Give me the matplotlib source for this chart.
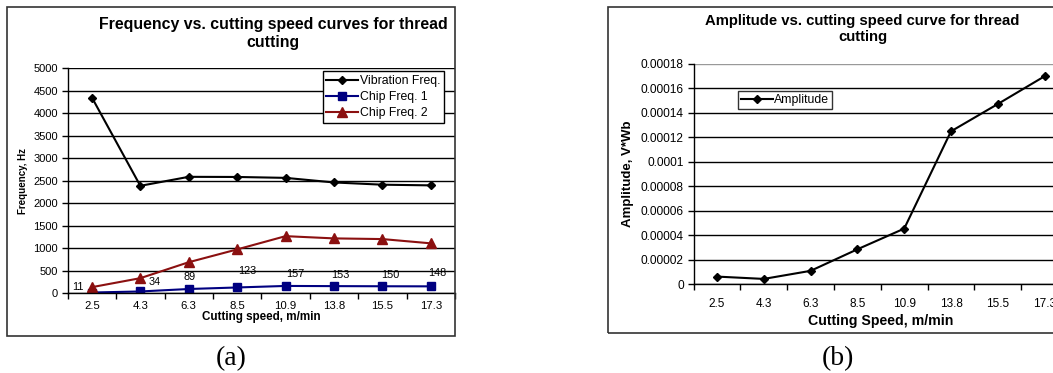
import matplotlib
matplotlib.use("Agg")
import matplotlib.pyplot as plt
from matplotlib.patches import Rectangle
import numpy as np

plt.rcParams['font.family'] = ['Liberation Sans', 'DejaVu Sans']

# ---------------- data ----------------
speeds = ["2.5", "4.3", "6.3", "8.5", "10.9", "13.8", "15.5", "17.3"]
vibration_freq = [4350, 2385, 2585, 2582, 2562, 2460, 2410, 2395]
chip_freq1 = [11, 34, 89, 123, 157, 153, 150, 148]
chip_freq2 = [130, 330, 685, 970, 1265, 1215, 1200, 1105]
amplitude = [6.3e-6, 4.4e-6, 1.1e-5, 2.86e-5, 4.55e-5, 1.25e-4, 1.473e-4, 1.70e-4]

freq_ticks = [0, 500, 1000, 1500, 2000, 2500, 3000, 3500, 4000, 4500, 5000]
amp_ticks = [0, 0.00002, 0.00004, 0.00006, 0.00008, 0.0001, 0.00012, 0.00014, 0.00016, 0.00018]
amp_tick_labels = ["0", "0.00002", "0.00004", "0.00006", "0.00008", "0.0001",
                   "0.00012", "0.00014", "0.00016", "0.00018"]
# label offsets (pixels) for chip freq 1 data labels
label_offsets = [(-14, 6), (14, 9), (1, 12), (10, 16), (10, 12), (6, 11), (8, 11), (6, 13)]

W, H = 1053, 373
fig = plt.figure(figsize=(W / 100, H / 100), dpi=100)


def px_axes(x0, y0, x1, y1):
    return fig.add_axes([x0 / W, (H - y1) / H, (x1 - x0) / W, (y1 - y0) / H])


def px_rect(x0, y0, x1, y1):
    r = Rectangle((x0 / W, (H - y1) / H), (x1 - x0) / W, (y1 - y0) / H,
                  transform=fig.transFigure, fill=False, edgecolor='#333333', lw=1.2)
    fig.patches.append(r)


# outer boxes
px_rect(7, 6.5, 455, 336)
px_rect(608, 7, 1100, 333)

xpos = np.arange(len(speeds))


def style_cat_axis(ax, fs, pad):
    ax.set_xlim(-0.5, len(speeds) - 0.5)
    ax.set_xticks(xpos)
    ax.set_xticklabels(speeds, fontsize=fs)
    ax.set_xticks(np.arange(len(speeds) + 1) - 0.5, minor=True)
    ax.tick_params(axis='x', which='major', length=0, pad=pad)
    ax.tick_params(axis='x', which='minor', length=4, width=1, direction='out', color='black')
    ax.tick_params(axis='y', length=4, width=1, direction='out', color='black', pad=3)
    for s in ['top', 'right']:
        ax.spines[s].set_visible(False)
    for s in ['left', 'bottom']:
        ax.spines[s].set_color('black')
        ax.spines[s].set_linewidth(1.0)
    ax.set_axisbelow(True)


# ---------------- panel (a) ----------------
axa = px_axes(67.7, 68.3, 455, 293)
axa.plot(xpos, vibration_freq, color='black', marker='D', markersize=4.5, lw=1.5,
         label='Vibration Freq.')
axa.plot(xpos, chip_freq1, color='#000080', marker='s', markersize=6, lw=1.5,
         label='Chip Freq. 1')
axa.plot(xpos, chip_freq2, color='#8B1010', marker='^', markersize=6.5, lw=1.5,
         label='Chip Freq. 2')
axa.set_ylim(0, 5000)
axa.set_yticks(freq_ticks)
axa.set_yticklabels([str(v) for v in freq_ticks], fontsize=8)
style_cat_axis(axa, 8.2, 6)
axa.yaxis.grid(True, color='black', lw=1.0)
for i, v in enumerate(chip_freq1):
    dx, dy = label_offsets[i]
    axa.annotate(str(v), (xpos[i], v), xytext=(dx * 0.72, dy * 0.72),
                 textcoords='offset points', ha='center', va='center', fontsize=7.8)
axa.set_xlabel('Cutting speed, m/min', fontsize=8.4, fontweight='bold', labelpad=0)
axa.set_ylabel('Frequency, Hz', fontsize=7, fontweight='bold', labelpad=4)
lga = axa.legend(loc='upper right', bbox_to_anchor=(0.972, 0.987), fontsize=8.8,
                 frameon=True, fancybox=False, edgecolor='black', framealpha=1,
                 handlelength=2.6, borderpad=0.3, labelspacing=0.35, handletextpad=0.15,
                 borderaxespad=0)
lga.get_frame().set_linewidth(1.0)
fig.text(273 / W, 1 - 33.5 / H, 'Frequency vs. cutting speed curves for thread\ncutting',
         ha='center', va='center', fontsize=11.4, fontweight='bold', linespacing=1.22)

# ---------------- panel (b) ----------------
axb = px_axes(693.6, 64, 1068, 284.3)
axb.plot(xpos, amplitude, color='black', marker='D', markersize=4.5, lw=1.5,
         label='Amplitude')
axb.set_ylim(0, 0.00018)
axb.set_yticks(amp_ticks)
axb.set_yticklabels(amp_tick_labels, fontsize=8.6)
style_cat_axis(axb, 8.5, 10)
axb.yaxis.grid(True, color='black', lw=1.0)
gl = axb.yaxis.get_gridlines()
gl[-1].set_color('#999999')
axb.set_xlabel('Cutting Speed, m/min', fontsize=10.2, fontweight='bold', labelpad=3)
axb.set_ylabel('Amplitude, V*Wb', fontsize=9.5, fontweight='bold', labelpad=5)
lgb = axb.legend(loc='upper left', bbox_to_anchor=(0.119, 0.877), fontsize=8.8,
                 frameon=True, fancybox=False, edgecolor='#333333', framealpha=1,
                 handlelength=2.6, borderpad=0.25, handletextpad=0.1, borderaxespad=0)
lgb.get_frame().set_linewidth(1.0)
fig.text(862.5 / W, 1 - 29 / H, 'Amplitude vs. cutting speed curve for thread\ncutting',
         ha='center', va='center', fontsize=10.7, fontweight='bold', linespacing=1.2)

# captions
fig.text(231 / W, 1 - 359 / H, '(a)', ha='center', va='center', fontsize=20,
         family=['Liberation Serif', 'DejaVu Serif'])
fig.text(838 / W, 1 - 359 / H, '(b)', ha='center', va='center', fontsize=20,
         family=['Liberation Serif', 'DejaVu Serif'])

fig.savefig('out.png', dpi=100)
